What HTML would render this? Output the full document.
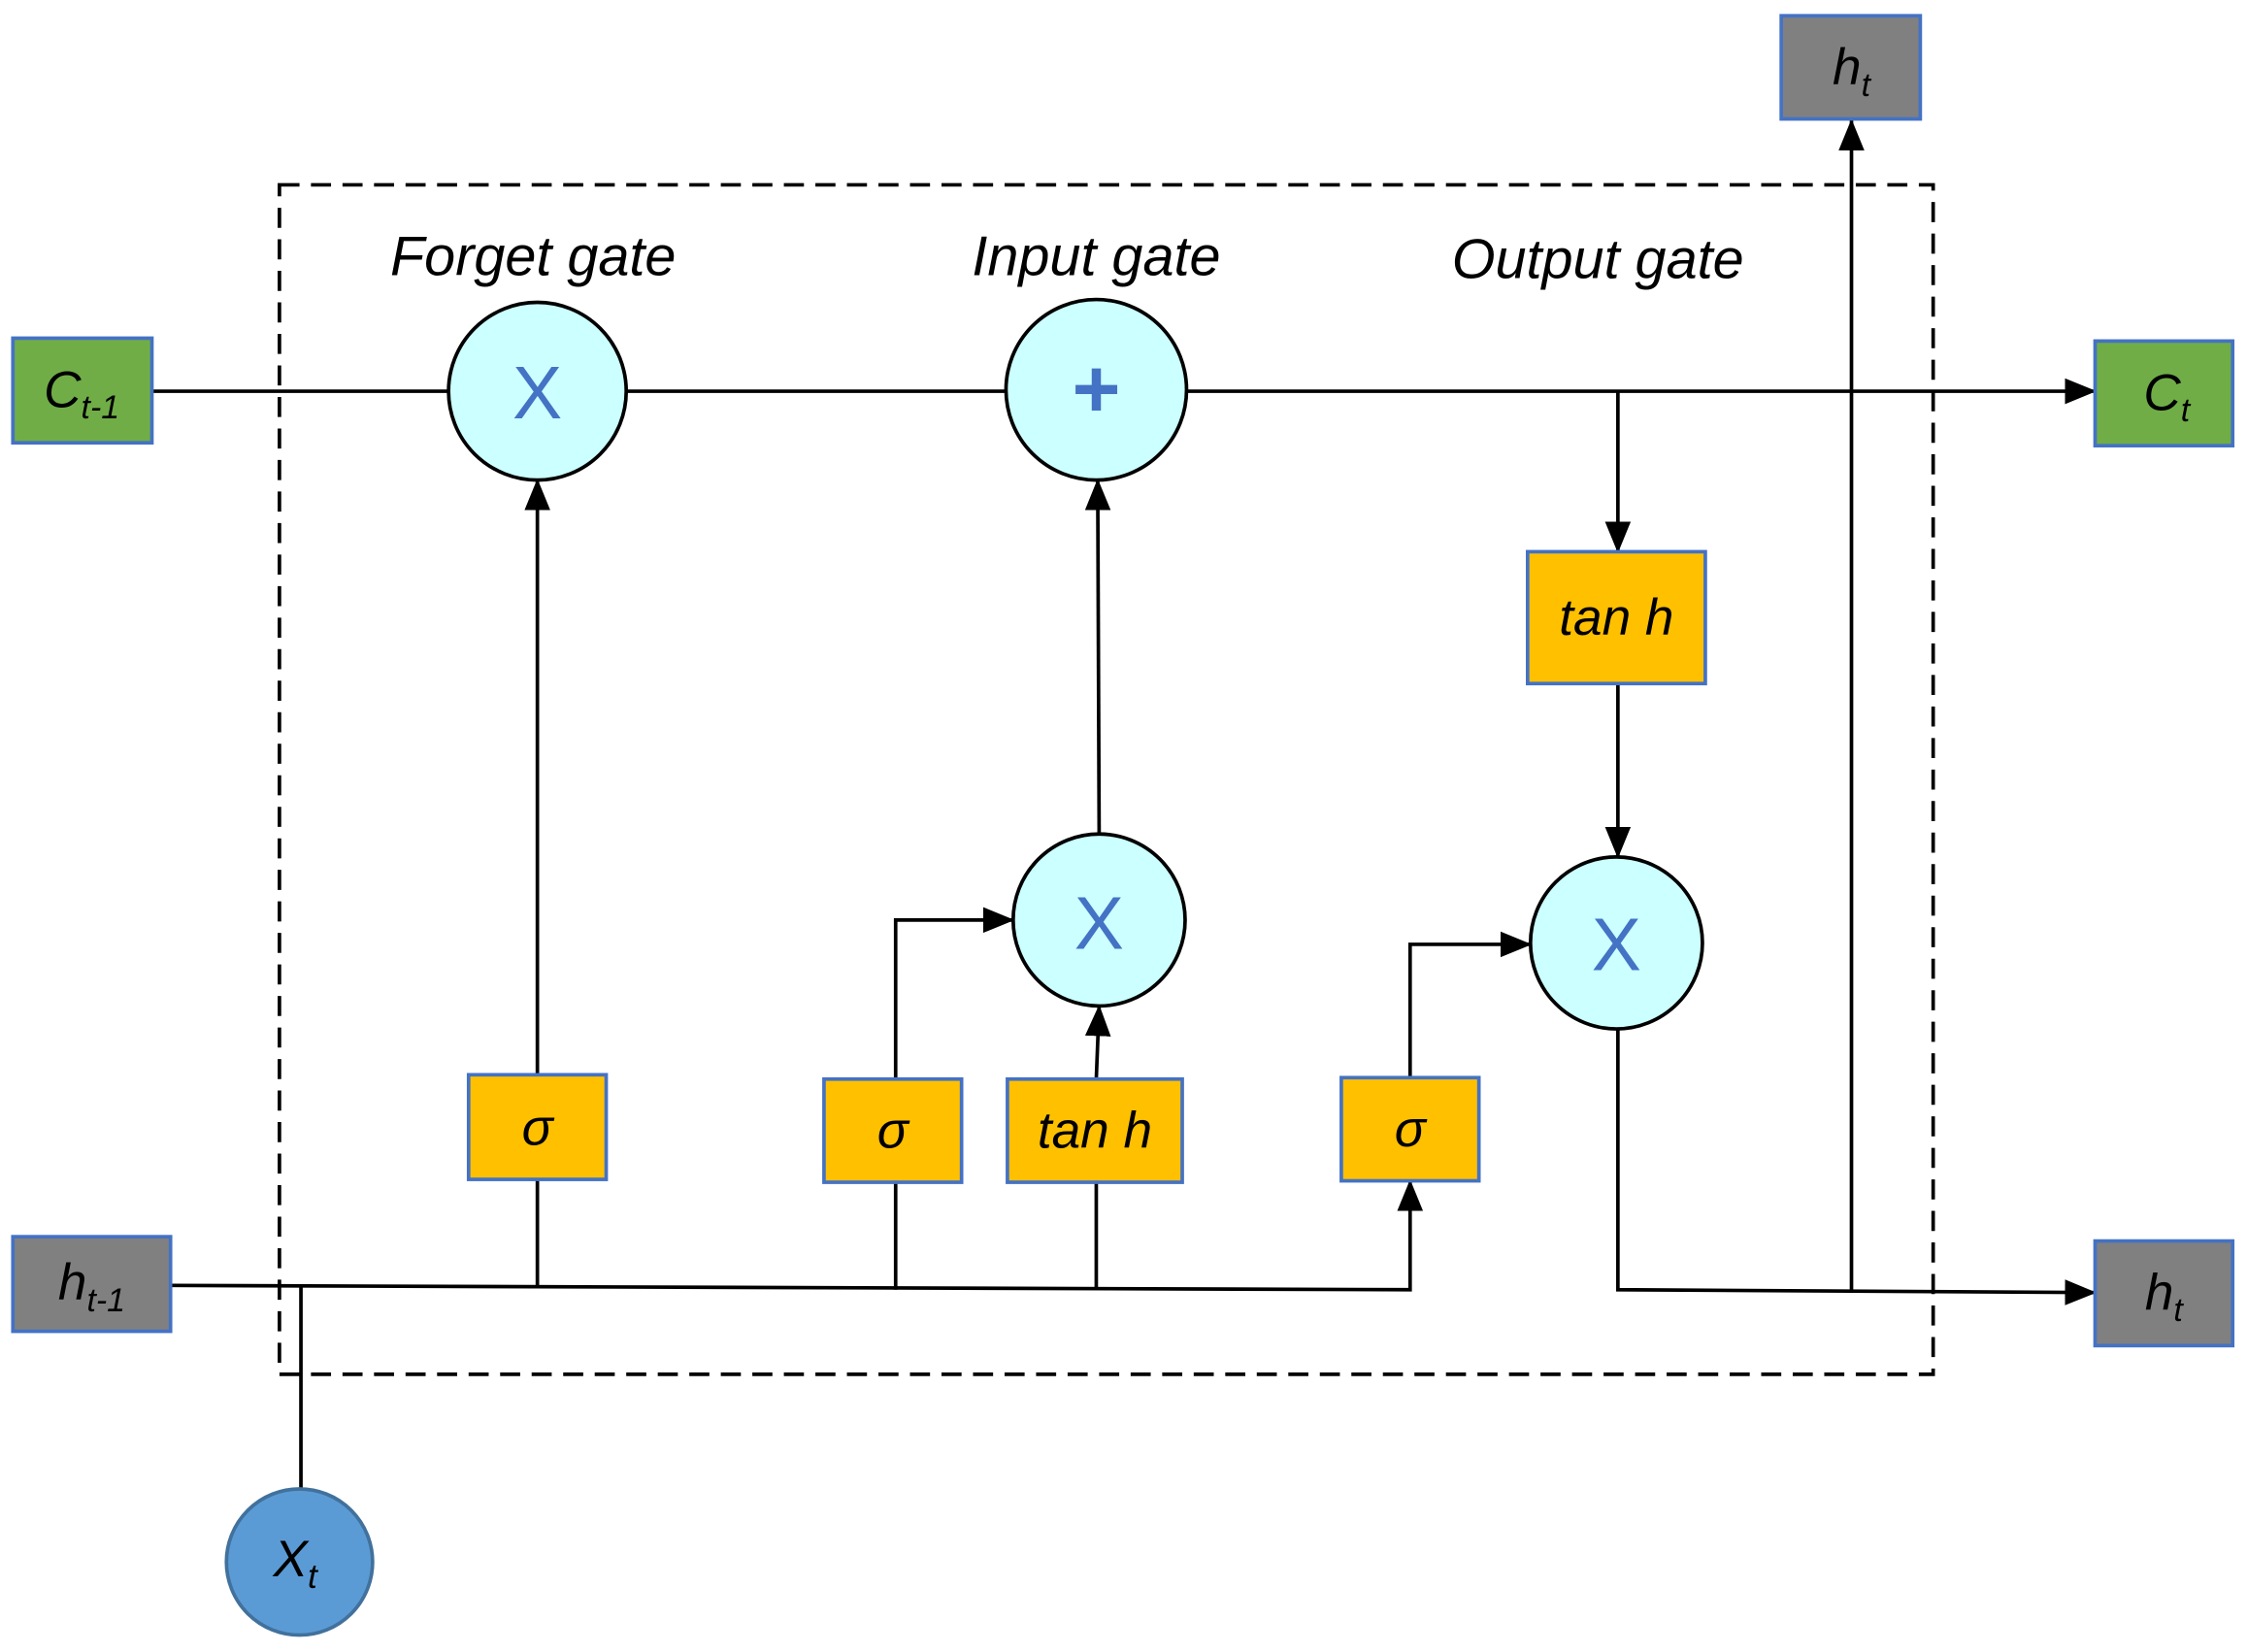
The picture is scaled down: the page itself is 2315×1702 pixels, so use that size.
<!DOCTYPE html>
<html><head><meta charset="utf-8"><style>
html,body{margin:0;padding:0;background:#fff;}
svg{display:block;}
text{font-family:"Liberation Sans",Arial,sans-serif;}
</style></head><body>
<svg width="2315" height="1702" viewBox="0 0 1568 1152.8" xmlns="http://www.w3.org/2000/svg">
<defs>
<marker id="a" viewBox="0 0 22 18" refX="21" refY="9" markerWidth="22" markerHeight="18" markerUnits="userSpaceOnUse" orient="auto">
<path d="M0,0 L22,9 L0,18 z" fill="#000"/></marker>
</defs>
<rect width="1568" height="1153" fill="#fff"/>
<rect x="195" y="129" width="1154" height="830" fill="none" stroke="#000" stroke-width="2.5" stroke-dasharray="14,8"/>
<g stroke="#000" stroke-width="2.5" fill="none">
<line x1="106" y1="273" x2="313" y2="273"/>
<line x1="437" y1="273" x2="702" y2="273"/>
<line x1="828" y1="273" x2="1462" y2="273" marker-end="url(#a)"/>
<line x1="1129" y1="273" x2="1129" y2="385" marker-end="url(#a)"/>
<line x1="1129" y1="477" x2="1129" y2="598" marker-end="url(#a)"/>
<polyline points="1129,718 1129,900 1462,902" marker-end="url(#a)"/>
<line x1="1292" y1="901" x2="1292" y2="84" marker-end="url(#a)"/>
<polyline points="119,897 984,900 984,824" marker-end="url(#a)"/>
<line x1="375" y1="898" x2="375" y2="823"/>
<line x1="375" y1="750" x2="375" y2="335" marker-end="url(#a)"/>
<line x1="625" y1="900" x2="625" y2="825"/>
<polyline points="625,753 625,642 707,642" marker-end="url(#a)"/>
<line x1="765" y1="900" x2="765" y2="825"/>
<line x1="765" y1="753" x2="767" y2="702" marker-end="url(#a)"/>
<polyline points="984,752 984,659 1068,659" marker-end="url(#a)"/>
<line x1="767" y1="582" x2="766" y2="335" marker-end="url(#a)"/>
<line x1="210" y1="1039" x2="210" y2="898"/>
</g>
<g stroke="#000" stroke-width="2.5" fill="#ccffff">
<circle cx="375" cy="273" r="62"/>
<circle cx="765" cy="272" r="63"/>
<circle cx="767" cy="642" r="60"/>
<circle cx="1128" cy="658" r="60"/>
</g>
<g fill="#4472c4" font-size="52" text-anchor="middle">
<text x="375" y="292">X</text>
<text x="767" y="662">X</text>
<text x="1128" y="677">X</text>
<text x="765" y="291" font-weight="bold" font-size="58">+</text>
</g>
<circle cx="209" cy="1090" r="51" fill="#5b9bd5" stroke="#41719c" stroke-width="2.5"/>
<text x="206" y="1100" font-size="36" font-style="italic" text-anchor="middle">X<tspan font-size="24" dy="8">t</tspan></text>
<g stroke="#4472c4" stroke-width="2.5">
<rect x="9" y="236" width="97" height="73" fill="#70ad47"/>
<rect x="1462" y="238" width="96" height="73" fill="#70ad47"/>
<rect x="9" y="863" width="110" height="66" fill="#808080"/>
<rect x="1462" y="866" width="96" height="73" fill="#808080"/>
<rect x="1243" y="11" width="97" height="72" fill="#808080"/>
<g fill="#ffc000">
<rect x="327" y="750" width="96" height="73"/>
<rect x="575" y="753" width="96" height="72"/>
<rect x="703" y="753" width="122" height="72"/>
<rect x="936" y="752" width="96" height="72"/>
<rect x="1066" y="385" width="124" height="92"/>
</g>
</g>
<g font-style="italic" font-size="36" text-anchor="middle" fill="#000">
<text x="57" y="284">C<tspan font-size="23" dy="8">t-1</tspan></text>
<text x="1512" y="286">C<tspan font-size="23" dy="8">t</tspan></text>
<text x="64" y="907">h<tspan font-size="23" dy="8">t-1</tspan></text>
<text x="1510" y="914">h<tspan font-size="23" dy="8">t</tspan></text>
<text x="1292" y="59">h<tspan font-size="23" dy="8">t</tspan></text>
<text x="375" y="799">σ</text>
<text x="623" y="801">σ</text>
<text x="984" y="800">σ</text>
<text x="764" y="801">tan h</text>
<text x="1128" y="443">tan h</text>
<text x="372" y="192" font-size="39">Forget gate</text>
<text x="765" y="192" font-size="39">Input gate</text>
<text x="1115" y="194" font-size="39">Output gate</text>
</g>
</svg>
</body></html>
